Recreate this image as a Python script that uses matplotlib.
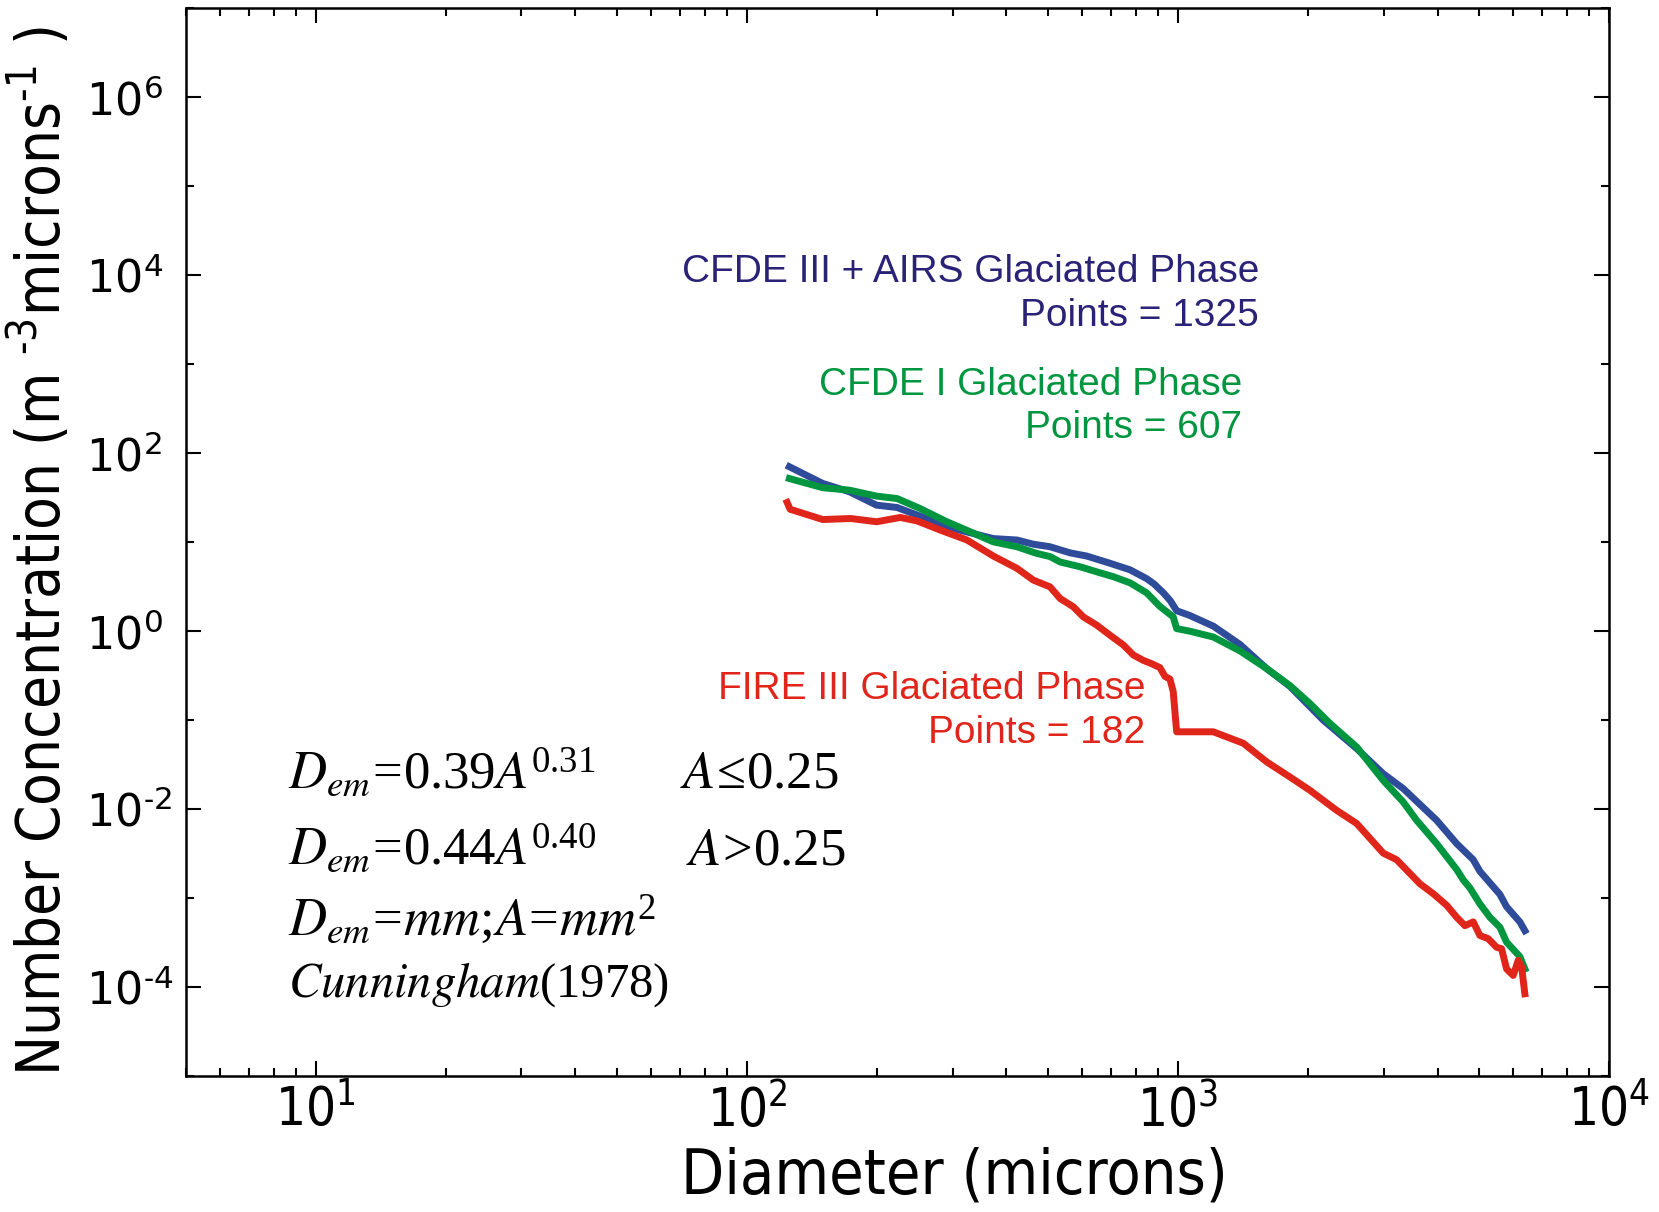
import matplotlib
matplotlib.use("Agg")
import matplotlib.pyplot as plt
from matplotlib import font_manager
from matplotlib.font_manager import FontProperties
from matplotlib.ticker import LogLocator, NullFormatter

# size distributions, glaciated phase
d_airs = [125.5, 150, 173, 200, 223, 252, 291, 323, 373, 423, 462, 505, 562, 614,
          696, 774, 846, 880, 925, 960, 993, 1066, 1208, 1393, 1606, 1818, 2173,
          2597, 2994, 3332, 3981, 4430, 4841, 5016, 5582, 5784, 6210, 6378]
n_airs = [70.6, 45.8, 36.9, 26.1, 24.6, 19.7, 14.9, 13.1, 11.0, 10.6, 9.5, 8.9, 7.6, 7.0,
          5.8, 4.9, 3.9, 3.4, 2.7, 2.2, 1.7, 1.5, 1.14, 0.71, 0.38, 0.24, 0.10,
          0.048, 0.025, 0.017, 0.0075, 0.0041, 0.0027, 0.0020, 0.0011, 0.0008, 0.00054, 0.00043]

d_cfde1 = [125.5, 150, 173, 200, 223, 252, 291, 323, 373, 423, 470, 505, 533, 593, 648,
           708, 774, 846, 908, 975, 993, 1066, 1208, 1393, 1606, 1818, 2023, 2252, 2597,
           2994, 3332, 3577, 3981, 4430, 4590, 4756, 5016, 5290, 5582, 5784, 6210, 6378]
n_cfde1 = [52, 41, 38.5, 33, 31, 24, 17, 13.7, 10.1, 8.9, 7.5, 6.9, 6.0, 5.3, 4.65,
           4.1, 3.5, 2.7, 1.9, 1.45, 1.07, 1.0, 0.86, 0.60, 0.38, 0.245, 0.154, 0.092, 0.050,
           0.021, 0.012, 0.0075, 0.0041, 0.0021, 0.0016, 0.0013, 0.00086, 0.00061, 0.00047,
           0.00032, 0.00022, 0.00016]

d_fire3 = [124, 126, 150, 174, 200, 227, 248, 281, 324, 373, 423, 462, 505, 533, 572,
           603, 648, 696, 747, 788, 831, 870, 908, 933, 958, 975, 993, 1208, 1418, 1606,
           1818, 2023, 2333, 2597, 2994, 3215, 3641, 3910, 4200, 4430, 4631, 4841, 5016,
           5244, 5483, 5632, 5784, 5994, 6156, 6266, 6378]
n_fire3 = [28, 23.5, 18.0, 18.5, 17.0, 19.0, 17.4, 13.7, 10.6, 7.0, 5.1, 3.75, 3.15, 2.33, 1.88,
           1.45, 1.17, 0.90, 0.70, 0.54, 0.47, 0.43, 0.39, 0.31, 0.29, 0.21, 0.074, 0.074, 0.055,
           0.034, 0.023, 0.0163, 0.0097, 0.0069, 0.0032, 0.0027, 0.00145, 0.00112, 0.00083,
           0.00061, 0.00049, 0.00054, 0.00038, 0.00035, 0.00028, 0.00027, 0.00016, 0.000135,
           0.00020, 0.00017, 0.000084]

x_ticks = [10, 100, 1000, 10000]
x_ticklabels = ['10$^{1}$', '10$^{2}$', '10$^{3}$', '10$^{4}$']
y_ticks = [1e-4, 1e-2, 1, 1e2, 1e4, 1e6]
y_ticklabels = [r'10$^{\text{-}4}$', r'10$^{\text{-}2}$', '10$^{0}$', '10$^{2}$', '10$^{4}$', '10$^{6}$']

blue = '#2f4c9a'
blue_txt = '#2a2276'
green = '#00963f'
red = '#e0251b'

# look for a condensed sans face for the axis titles
cond = None
for f in font_manager.fontManager.ttflist:
    if f.name.startswith('DejaVu Sans') and f.stretch == 'condensed' and f.style == 'normal' \
            and f.weight in (400, 'normal', 'regular'):
        cond = f
        break
if cond is None:
    for f in font_manager.fontManager.ttflist:
        if ('Narrow' in f.name or 'Condensed' in f.name or f.stretch == 'condensed') \
                and f.style == 'normal':
            cond = f
            break

plt.rcParams['mathtext.fontset'] = 'custom'
if cond is not None:
    cond_prop = FontProperties(fname=cond.fname)
    plt.rcParams['mathtext.rm'] = cond.name + ':stretch=condensed'
    plt.rcParams['mathtext.it'] = cond.name + ':style=italic:stretch=condensed'
    xlab_size, ylab_size, tick_size = 45, 43, 38
else:
    cond_prop = FontProperties(family='Liberation Sans')
    plt.rcParams['mathtext.rm'] = 'Liberation Sans'
    plt.rcParams['mathtext.it'] = 'Liberation Sans:style=italic'
    xlab_size, ylab_size, tick_size = 40, 38, 34
plt.rcParams['mathtext.default'] = 'regular'

fig = plt.figure(figsize=(16.59, 12.12), dpi=100)
ax = fig.add_axes([0.1121, 0.1122, 0.8578, 0.8808])

ax.plot(d_airs, n_airs, color=blue, lw=5)
ax.plot(d_cfde1, n_cfde1, color=green, lw=5)
ax.plot(d_fire3, n_fire3, color=red, lw=5)

ax.set_xscale('log')
ax.set_yscale('log')
ax.set_xlim(5, 1e4)
ax.set_ylim(1e-5, 1e7)

ax.set_xticks(x_ticks, x_ticklabels)
for t in ax.get_xticklabels():
    t.set_fontproperties(cond_prop)
    t.set_fontsize(tick_size)
ax.xaxis.set_minor_locator(LogLocator(base=10, subs=range(2, 10)))
ax.xaxis.set_minor_formatter(NullFormatter())
ax.set_yticks(y_ticks, y_ticklabels, fontfamily='DejaVu Sans', fontsize=32)
ax.yaxis.set_minor_locator(LogLocator(base=10, subs=[]))
ax.yaxis.set_minor_formatter(NullFormatter())
for t in ax.get_yticklabels():
    t.set_ha('left')

ax.tick_params(which='both', direction='in', top=True, right=True, width=1.5)
ax.tick_params(which='major', length=11)
ax.tick_params(which='minor', length=6)
ax.tick_params(axis='x', pad=6)
ax.tick_params(axis='y', pad=72)
for s in ax.spines.values():
    s.set_linewidth(1.8)

xl = ax.set_xlabel('Diameter (microns)', fontproperties=cond_prop)
xl.set_fontsize(xlab_size)
ax.xaxis.set_label_coords(0.54, -0.066)
yl = ax.set_ylabel('Number Concentration (m $^{\\text{-}3}$microns$^{\\text{-}1}$ )', fontproperties=cond_prop)
yl.set_fontsize(ylab_size)
ax.yaxis.set_label_coords(-0.0787, 0.492)

# campaign labels
lab = dict(transform=ax.transAxes, ha='right', va='center', multialignment='right',
           fontfamily='Liberation Sans', fontsize=28, linespacing=1.27)
ax.text(0.754, 0.7324, 'CFDE III + AIRS Glaciated Phase\nPoints = 1325', color=blue_txt, **lab)
ax.text(0.742, 0.6271, 'CFDE I Glaciated Phase\nPoints = 607', color=green, **lab)
ax.text(0.674, 0.3417, 'FIRE III Glaciated Phase\nPoints = 182', color=red, **lab)

# equivalent melted diameter relation
eq = dict(transform=ax.transAxes, va='baseline', ha='left', fontsize=38,
          fontfamily='Liberation Serif', math_fontfamily='stix', color='black')
ax.text(0.0717, 0.2698, r'$\mathit{D}_{\mathit{em}}\!=\!0.39\mathit{A}^{0.31}$', **eq)
ax.text(0.347, 0.2698, r'$\mathit{A}\!\leq\!0.25$', **eq)
ax.text(0.0717, 0.1985, r'$\mathit{D}_{\mathit{em}}\!=\!0.44\mathit{A}^{0.40}$', **eq)
ax.text(0.3514, 0.1985, r'$\mathit{A}\!>\!0.25$', **eq)
ax.text(0.0717, 0.1320, r'$\mathit{D}_{\mathit{em}}\!=\!\mathit{mm};\!\mathit{A}\!=\!\mathit{mm}^{2}$', **eq)
eq['fontsize'] = 35
ax.text(0.0717, 0.0740, r'$\mathit{Cunningham}$(1978)', **eq)

fig.savefig('out.png', dpi=100)
